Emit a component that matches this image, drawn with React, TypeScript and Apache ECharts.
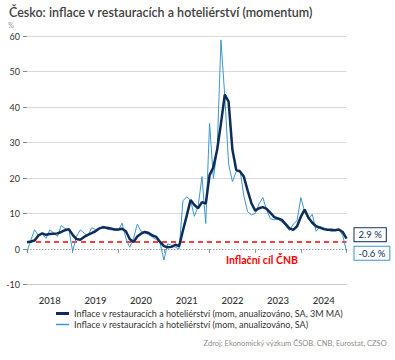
import React, { useEffect, useRef } from "react";
import * as echarts from "echarts";

const TITLE = "Česko: inflace v restauracích a hoteliérství (momentum)";
const UNIT = "%";
const SOURCE = "Zdroj: Ekonomický výzkum ČSOB, CNB, Eurostat, CZSO";
const TARGET_LABEL = "Inflační cíl ČNB";
const SERIES_MA = "Inflace v restauracích a hoteliérství (mom, anualizováno, SA, 3M MA)";
const SERIES_MOM = "Inflace v restauracích a hoteliérství (mom, anualizováno, SA)";

// Monthly categories Jan 2018 .. Jan 2025
const years = [2018, 2019, 2020, 2021, 2022, 2023, 2024, 2025];
const months = ["01", "02", "03", "04", "05", "06", "07", "08", "09", "10", "11", "12"];

// 3M moving average (dark line)
const maValues = [
  1.9, 2.1, 2.4, 3.8, 4.4, 4.0, 4.2, 4.3, 4.4, 4.8, 5.3, 5.6, // 2018
  4.0, 2.8, 2.6, 3.4, 4.0, 4.5, 5.0, 5.8, 6.1, 6.0, 5.8, 5.5, // 2019
  5.5, 5.7, 5.0, 2.8, 2.0, 3.5, 4.3, 4.8, 4.5, 3.8, 3.4, 2.0, // 2020
  0.8, 0.5, 0.6, 1.2, 0.8, 5.2, 9.4, 13.8, 12.4, 11.5, 13.2, 12.8, // 2021
  20.8, 23.0, 28.0, 35.4, 43.5, 41.5, 28.0, 22.3, 21.8, 20.4, 16.5, 12.9, // 2022
  10.8, 11.5, 11.8, 11.3, 10.2, 9.0, 8.6, 8.2, 7.0, 5.8, 5.4, 6.4, // 2023
  9.1, 11.1, 8.8, 7.4, 6.4, 6.0, 5.6, 5.4, 5.4, 5.3, 5.5, 4.8, // 2024
  2.9, // 2025
];

// monthly annualized (light line)
const momValues = [
  -0.8, 2.5, 5.4, 3.8, 4.2, 3.0, 5.4, 4.5, 3.5, 6.6, 5.8, 5.4, // 2018
  -0.6, 3.5, 5.4, 4.5, 3.7, 6.0, 5.5, 5.8, 6.5, 5.6, 5.4, 5.4, // 2019
  5.2, 7.3, 3.0, 0.5, 3.0, 7.0, 5.0, 4.6, 4.0, 3.3, 2.7, 1.6, // 2020
  -3.1, 1.5, 1.0, 0.5, 0.0, 13.6, 14.7, 13.8, 9.2, 12.0, 20.4, 7.2, // 2021
  35.4, 19.9, 28.0, 58.9, 43.0, 24.0, 19.0, 21.8, 22.3, 15.0, 10.5, 9.6, // 2022
  10.0, 12.7, 14.5, 11.0, 8.5, 8.2, 8.4, 7.6, 6.5, 5.2, 7.0, 8.0, // 2023
  14.5, 10.5, 8.4, 9.8, 5.0, 6.3, 6.0, 5.5, 4.9, 5.2, 5.5, 3.8, // 2024
  -0.6, // 2025
];

const TARGET = 2;
const Y_MIN = -10;
const Y_MAX = 60;
const Y_STEP = 10;

const DARK = "#0f2d5a";
const LIGHT = "#3a98cc";
const RED = "#ff0000";
const FONT = "Lato";

export default function App() {
  const ref = useRef<HTMLDivElement>(null);
  useEffect(() => {
    if (!ref.current) return;
    document.body.style.margin = "0";
    const chart = echarts.init(ref.current, null, { renderer: "svg" });
    const categories: string[] = [];
    years.forEach((y) => months.forEach((m) => categories.push(`${y}-${m}`)));
    const cats = categories.slice(0, maValues.length);

    const gridColors: string[] = [];
    for (let v = Y_MIN; v <= Y_MAX; v += Y_STEP) gridColors.push(v === 0 || v === Y_MIN ? "rgba(0,0,0,0)" : "#d9d9d9");

    chart.setOption({
      animation: false,
      textStyle: { fontFamily: FONT },
      title: {
        text: TITLE,
        left: 4,
        top: 1,
        textStyle: { fontFamily: FONT, fontSize: 12.5, fontWeight: 600, color: "#404040" },
      },
      graphic: [
        { type: "text", left: 8, top: 21, style: { text: UNIT, fontFamily: FONT, fontSize: 7.5, fill: "#999" } },
        {
          type: "text",
          right: 8,
          top: 339,
          style: { text: SOURCE, fontFamily: FONT, fontSize: 7.5, fill: "#8c8c8c" },
        },
        {
          type: "text",
          left: 226,
          top: 254,
          z: 10,
          style: { text: TARGET_LABEL, fontFamily: FONT, fontSize: 10.5, fontWeight: "bold", fill: RED },
        },
      ],
      legend: [
        {
          data: [SERIES_MA],
          left: 56,
          top: 309,
          padding: 0,
          icon: "rect",
          itemWidth: 13,
          itemHeight: 3,
          textStyle: { fontFamily: FONT, fontSize: 9, color: "#333" },
        },
        {
          data: [SERIES_MOM],
          left: 56,
          top: 320,
          padding: 0,
          icon: "rect",
          itemWidth: 13,
          itemHeight: 1.5,
          textStyle: { fontFamily: FONT, fontSize: 9, color: "#333" },
        },
      ],
      grid: { left: 27, right: 48.5, top: 36, bottom: 75.5, containLabel: false },
      xAxis: [
        {
          type: "category",
          data: cats,
          boundaryGap: false,
          axisLine: { show: true, onZero: false, lineStyle: { color: "#c8c8c8", width: 1 } },
          axisTick: { show: false },
          axisLabel: {
            interval: (i: number) => i % 12 === 6,
            formatter: (v: string) => v.slice(0, 4),
            margin: 11,
            fontFamily: FONT,
            fontSize: 9.5,
            fontWeight: 500,
            color: "#333",
          },
          splitLine: { show: false },
        },
        {
          type: "category",
          data: cats,
          boundaryGap: false,
          position: "bottom",
          offset: 7,
          axisLine: { show: false },
          axisTick: { show: true, interval: (i: number) => i % 12 === 0, length: 4, lineStyle: { color: "#999" } },
          axisLabel: { show: false },
          splitLine: { show: false },
        },
      ],
      yAxis: {
        type: "value",
        min: Y_MIN,
        max: Y_MAX,
        interval: Y_STEP,
        axisLine: { show: false },
        axisTick: { show: true, length: 4, lineStyle: { color: "#888" } },
        axisLabel: { margin: 7, fontFamily: FONT, fontSize: 9, color: "#333" },
        splitLine: { show: true, lineStyle: { color: gridColors, width: 1 } },
      },
      series: [
        {
          name: SERIES_MOM,
          type: "line",
          data: momValues,
          showSymbol: false,
          symbol: "none",
          lineStyle: { color: LIGHT, width: 1 },
          itemStyle: { color: LIGHT },
          z: 3,
          endLabel: {
            show: true,
            formatter: (p: any) => `${Number(p.value).toFixed(1)} %`,
            backgroundColor: "#fff",
            borderColor: LIGHT,
            borderWidth: 1,
            padding: [2, 4, 1, 4],
            distance: 8,
            offset: [0, 2],
            fontFamily: FONT,
            fontSize: 9.5,
            color: "#0f2d5a",
          },
          markLine: {
            silent: true,
            symbol: "none",
            z: 1,
            label: { show: false },
            data: [
              { yAxis: 0, lineStyle: { color: "#a0a0a0", type: [1.5, 1.5], width: 1 } },
            ],
          },
        },
        {
          name: SERIES_MA,
          type: "line",
          data: maValues,
          showSymbol: false,
          symbol: "none",
          lineStyle: { color: DARK, width: 2.5 },
          itemStyle: { color: DARK },
          z: 4,
          endLabel: {
            show: true,
            formatter: (p: any) => `${Number(p.value).toFixed(1)} %`,
            backgroundColor: "#fff",
            borderColor: DARK,
            borderWidth: 1,
            padding: [2, 4, 1, 4],
            distance: 8,
            offset: [0, -4],
            fontFamily: FONT,
            fontSize: 9.5,
            color: "#0f2d5a",
          },
          markLine: {
            silent: true,
            symbol: "none",
            z: 2,
            label: { show: false },
            data: [{ yAxis: TARGET, lineStyle: { color: RED, type: [5, 4], width: 1.6 } }],
          },
        },
      ],
    });
    return () => chart.dispose();
  }, []);
  return <div ref={ref} style={{ position: "absolute", left: 0, top: 0, width: 395, height: 360 }} />;
}
